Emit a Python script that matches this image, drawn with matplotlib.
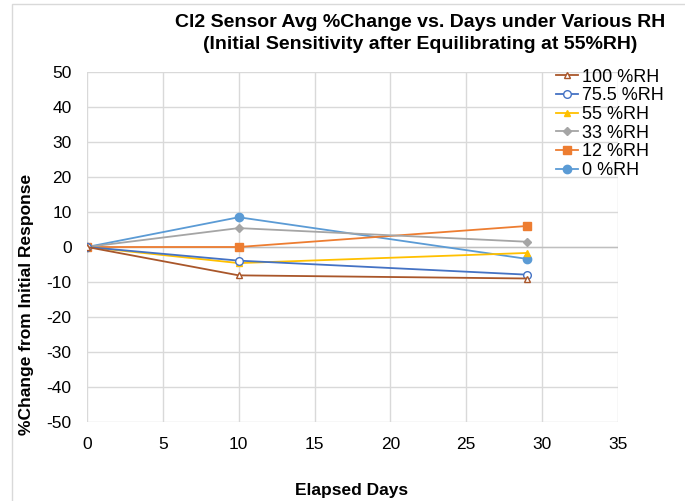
import matplotlib
matplotlib.use("Agg")
import matplotlib.pyplot as plt
from matplotlib.patches import Rectangle

plt.rcParams['font.family'] = ['Liberation Sans', 'DejaVu Sans']
plt.rcParams['axes.unicode_minus'] = False

days = [0, 10, 29]
series_names = ["100 %RH", "75.5 %RH", "55 %RH", "33 %RH", "12 %RH", "0 %RH"]
rh100 = [0, -8.1, -9.0]
rh75 = [0, -3.9, -7.9]
rh55 = [0, -4.6, -1.7]
rh33 = [0, 5.4, 1.5]
rh12 = [0, 0.0, 6.0]
rh0 = [0, 8.5, -3.4]
x_ticks = [0, 5, 10, 15, 20, 25, 30, 35]
y_ticks = [-50, -40, -30, -20, -10, 0, 10, 20, 30, 40, 50]

values = [rh100, rh75, rh55, rh33, rh12, rh0]
colors = ["#A9562A", "#4472C4", "#FFC000", "#A5A5A5", "#ED7D31", "#5B9BD5"]
markers = ["^", "o", "^", "D", "s", "o"]
mfc = ["none", "none", None, None, None, None]
msizes = [5, 5.5, 5, 4, 6, 6]

W, H = 685, 501
fig = plt.figure(figsize=(W / 100, H / 100), dpi=100)
fig.patches.append(Rectangle((12 / W, -0.1), 1.2, (H - 4) / H + 0.1,
                             transform=fig.transFigure, fill=False,
                             edgecolor="#D9D9D9", linewidth=1))

ax = fig.add_axes([87 / W, 1 - 422 / H, (618 - 87) / W, (422 - 72) / H])
for i, (name, vals) in enumerate(zip(series_names, values)):
    kw = dict(color=colors[i], marker=markers[i], markersize=msizes[i],
              linewidth=1.3, label=name, zorder=3 + (5 - i))
    if mfc[i] == "none":
        kw["markerfacecolor"] = "white"
        kw["markeredgewidth"] = 1.0
    ax.plot(days, vals, **kw)

ax.set_xlim(0, 35)
ax.set_ylim(-50, 50)
ax.set_xticks(x_ticks)
ax.set_yticks(y_ticks)
ax.grid(True, color="#D9D9D9", linewidth=1)
ax.axhline(0, color="#BFBFBF", linewidth=1, zorder=1)
ax.set_axisbelow(True)
for s in ax.spines.values():
    s.set_visible(False)
ax.tick_params(length=0, labelsize=12.5, colors="#000000")
ax.tick_params(axis='x', pad=11)
ax.tick_params(axis='y', pad=11)

leg = ax.legend(loc="upper left", bbox_to_anchor=((549 - 87) / (618 - 87), 1.03),
                frameon=False, fontsize=13, handlelength=1.2, handletextpad=0.2,
                labelspacing=0.09, borderaxespad=0)

fig.text(420 / W, 1 - 14 / H,
         "Cl2 Sensor Avg %Change vs. Days under Various RH\n(Initial Sensitivity after Equilibrating at 55%RH)",
         ha="center", va="top", fontsize=14, fontweight="bold", linespacing=1.35)
fig.text(27 / W, 1 - 304 / H, "%Change from Initial Response", rotation=90,
         ha="center", va="center", fontsize=12.5, fontweight="bold")
fig.text(352 / W, 1 - 490 / H, "Elapsed Days", ha="center", va="center",
         fontsize=12.5, fontweight="bold")

fig.savefig("out.png", dpi=100)
